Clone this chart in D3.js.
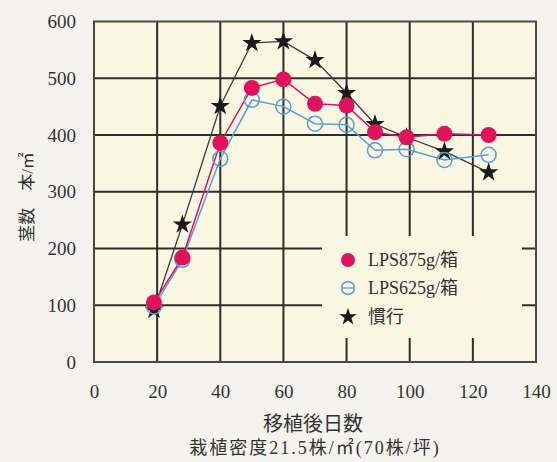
<!DOCTYPE html>
<html><head><meta charset="utf-8">
<script src="https://cdn.jsdelivr.net/npm/d3@7"></script>
<style>
html,body{margin:0;padding:0;background:#f4f3ef;}
svg{display:block;}
.serif{font-family:'Liberation Serif','DejaVu Serif',serif;}
.jp{font-family:'Liberation Serif','Noto Sans CJK JP',serif;}
</style></head>
<body>
<svg id="chart" width="557" height="462"></svg>
<script>
const xTicks = [0, 20, 40, 60, 80, 100, 120, 140];
const yTicks = [0, 100, 200, 300, 400, 500, 600];
const days = [19, 28, 40, 50, 60, 70, 80, 89, 99, 111, 125];
const lps875 = [105, 184, 386, 483, 498, 455, 452, 405, 396, 402, 400];
const lps625 = [98, 180, 358, 462, 450, 420, 418, 373, 375, 356, 365];
const conv = [92, 242, 451, 562, 565, 532, 474, 419, 396, 371, 334];
const seriesNames = ["LPS875g/箱", "LPS625g/箱", "慣行"];
const xTitle = "移植後日数";
const subTitle = "栽植密度21.5株/㎡(70株/坪)";
const yTitle = "茎数　本/㎡";

const svg = d3.select("#chart");
const L = 94, R = 536, T = 21.5, B = 362;
const x = d3.scaleLinear().domain([0, 140]).range([L, R]);
const y = d3.scaleLinear().domain([0, 600]).range([B, T]);

svg.append("rect").attr("x", L).attr("y", T).attr("width", R - L).attr("height", B - T).attr("fill", "#f9f6e2");

const grid = svg.append("g").attr("stroke", "#2e2e28").attr("stroke-width", 2);
grid.selectAll("line.v").data(xTicks.slice(1, -1)).join("line")
  .attr("x1", d => x(d)).attr("x2", d => x(d)).attr("y1", T).attr("y2", B);
grid.selectAll("line.h").data(yTicks.slice(1, -1)).join("line")
  .attr("y1", d => y(d)).attr("y2", d => y(d)).attr("x1", L).attr("x2", R);

// legend background covering grid
svg.append("rect").attr("x", 322).attr("y", 236).attr("width", 200).attr("height", 102).attr("fill", "#f9f6e2");

svg.append("rect").attr("x", L).attr("y", T).attr("width", R - L).attr("height", B - T)
  .attr("fill", "none").attr("stroke", "#4a4a44").attr("stroke-width", 2);

const xAxis = svg.append("g").attr("transform", `translate(0,${B})`)
  .call(d3.axisBottom(x).tickValues(xTicks).tickSize(0).tickPadding(23));
xAxis.select(".domain").remove();
xAxis.attr("font-family", null).attr("font-size", null);
xAxis.selectAll("text").attr("class", "serif").style("font-size", "19px").attr("fill", "#333");

const yAxis = svg.append("g").attr("transform", `translate(${L},0)`)
  .call(d3.axisLeft(y).tickValues(yTicks).tickSize(0).tickPadding(18));
yAxis.select(".domain").remove();
yAxis.attr("font-family", null).attr("font-size", null);
yAxis.selectAll("text").attr("class", "serif").style("font-size", "19px").attr("fill", "#333");

const pink = "#e2115c", blue = "#5a9fd2", black = "#1a1a1a";
const line = d3.line().x(d => x(d[0])).y(d => y(d[1]));
const zip = arr => days.map((d, i) => [d, arr[i]]);

svg.append("path").datum(zip(conv)).attr("d", line).attr("fill", "none").attr("stroke", "#3a3a3a").attr("stroke-width", 1.3);
svg.append("path").datum(zip(lps625)).attr("d", line).attr("fill", "none").attr("stroke", blue).attr("stroke-width", 1.5);
svg.append("path").datum(zip(lps875)).attr("d", line).attr("fill", "none").attr("stroke", pink).attr("stroke-width", 1.5);

const star = d3.symbol().type(d3.symbolStar).size(115);
svg.append("g").selectAll("path").data(zip(conv)).join("path")
  .attr("d", star).attr("transform", d => `translate(${x(d[0])},${y(d[1])})`).attr("fill", black);
svg.append("g").selectAll("circle").data(zip(lps625)).join("circle")
  .attr("cx", d => x(d[0])).attr("cy", d => y(d[1])).attr("r", 7.5)
  .attr("fill", "none").attr("stroke", blue).attr("stroke-width", 1.5);
svg.append("g").selectAll("circle").data(zip(lps875)).join("circle")
  .attr("cx", d => x(d[0])).attr("cy", d => y(d[1])).attr("r", 8).attr("fill", pink);

// legend
const lg = svg.append("g");
const ly = [260, 288, 317];
lg.append("circle").attr("cx", 348).attr("cy", ly[0]).attr("r", 7).attr("fill", pink);
lg.append("circle").attr("cx", 348).attr("cy", ly[1]).attr("r", 6.5).attr("fill", "none").attr("stroke", blue).attr("stroke-width", 1.5);
lg.append("line").attr("x1", 341.5).attr("x2", 354.5).attr("y1", ly[1]).attr("y2", ly[1]).attr("stroke", blue).attr("stroke-width", 1.3);
lg.append("path").attr("d", d3.symbol().type(d3.symbolStar).size(95)).attr("transform", `translate(348,${ly[2]})`).attr("fill", black);
lg.selectAll("text").data(seriesNames).join("text")
  .attr("class", "jp").style("font-size", "18px")
  .attr("x", 368).attr("y", (d, i) => ly[i]).attr("dy", "0.36em").attr("fill", "#333")
  .text(d => d);

svg.append("text").attr("x", 313).attr("y", 424).attr("dy", "0.36em").attr("text-anchor", "middle")
  .attr("class", "jp").style("font-size", "20px").attr("fill", "#333").text(xTitle);
svg.append("text").attr("x", 315).attr("y", 448).attr("dy", "0.36em").attr("text-anchor", "middle")
  .attr("class", "jp").style("font-size", "18px").style("letter-spacing", "2px").attr("fill", "#333").text(subTitle);
svg.append("text").attr("transform", "translate(27,197) rotate(-90)").attr("dy", "0.36em").attr("text-anchor", "middle")
  .attr("class", "jp").style("font-size", "17px").attr("fill", "#333").text(yTitle);
</script>
</body></html>
